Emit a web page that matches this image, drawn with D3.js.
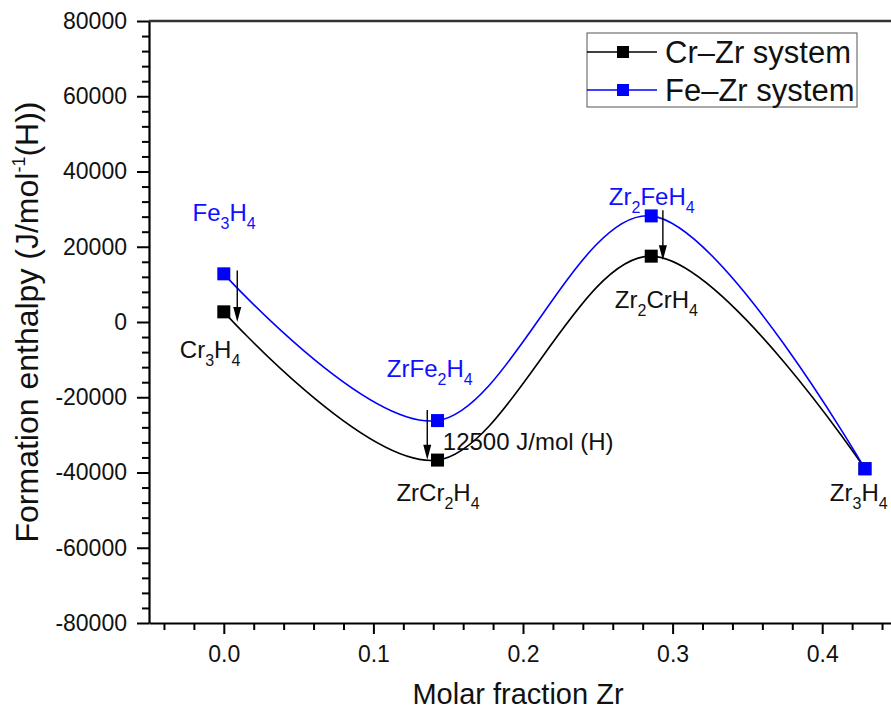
<!DOCTYPE html>
<html>
<head>
<meta charset="utf-8">
<script src="https://cdn.jsdelivr.net/npm/d3@7/dist/d3.min.js"></script>
<style>
  html, body { margin: 0; padding: 0; background: #fff; }
  svg { display: block; font-family: "Liberation Sans", Arial, sans-serif; }
</style>
</head>
<body>
<svg id="chart" width="891" height="717"></svg>
<script>
// ---- data ----
const molarFraction = [0, 1/7, 2/7, 3/7];
const crZrEnthalpy = [2700, -36700, 17500, -39000];
const feZrEnthalpy = [12800, -26200, 28200, -39000];
const seriesNames = ["Cr\u2013Zr system", "Fe\u2013Zr system"];
const seriesColors = ["#000000", "#0000ff"];
const yTickValues = [-80000, -60000, -40000, -20000, 0, 20000, 40000, 60000, 80000];
const xTickValues = [0.0, 0.1, 0.2, 0.3, 0.4];
const xTitle = "Molar fraction Zr";
// annotation arrows (data coords): x, from, to
const arrowX = [0.009, 0.136, 0.2935];
const arrowFrom = [13700, -23400, 29700];
const arrowTo = [0, -36600, 16400];
// labels: parts [text, isSub], x, y (data coords, baseline-left), series index
const labelParts = [
  [["Fe",0],["3",1],["H",0],["4",1]],
  [["Cr",0],["3",1],["H",0],["4",1]],
  [["ZrFe",0],["2",1],["H",0],["4",1]],
  [["12500 J/mol (H)",0]],
  [["ZrCr",0],["2",1],["H",0],["4",1]],
  [["Zr",0],["2",1],["FeH",0],["4",1]],
  [["Zr",0],["2",1],["CrH",0],["4",1]],
  [["Zr",0],["3",1],["H",0],["4",1]]
];
const labelX = [-0.0209, -0.0294, 0.109, 0.1464, 0.1154, 0.2574, 0.2614, 0.4051];
const labelY = [26850, -9570, -14620, -34020, -47580, 31100, 3720, -47700];
const labelSeries = [1, 0, 1, 0, 0, 1, 0, 0];

// ---- chart ----
const svg = d3.select("#chart");
const L = 149, T = 21, R = 897, B = 623;
const x = d3.scaleLinear().domain([-0.05, 0.45]).range([L, R]);
const y = d3.scaleLinear().domain([-80000, 80000]).range([B, T]);

const fmtY = d => String(d);
const minorY = d3.range(-80000, 80001, 4000).filter(v => v % 20000 !== 0);
const minorX = d3.range(-0.04, 0.4401, 0.02).map(v => +v.toFixed(2)).filter(v => Math.abs(v*10 - Math.round(v*10)) > 1e-6);

// minor ticks
svg.append("g").attr("transform", `translate(${L},0)`)
  .call(d3.axisLeft(y).tickValues(minorY).tickSize(7).tickFormat(""))
  .call(g => g.select(".domain").remove())
  .selectAll("line").attr("stroke", "#000").attr("stroke-width", 2);
svg.append("g").attr("transform", `translate(0,${B})`)
  .call(d3.axisBottom(x).tickValues(minorX).tickSize(7).tickFormat(""))
  .call(g => g.select(".domain").remove())
  .selectAll("line").attr("stroke", "#000").attr("stroke-width", 2);

// major axes
const yAxis = svg.append("g").attr("transform", `translate(${L},0)`)
  .call(d3.axisLeft(y).tickValues(yTickValues).tickFormat(fmtY).tickSize(12).tickSizeOuter(0).tickPadding(10));
const xAxis = svg.append("g").attr("transform", `translate(0,${B})`)
  .call(d3.axisBottom(x).tickValues(xTickValues).tickFormat(d3.format(".1f")).tickSize(11).tickSizeOuter(0).tickPadding(12));
[yAxis, xAxis].forEach(g => {
  g.select(".domain").attr("stroke", "#000").attr("stroke-width", 2.2);
  g.selectAll(".tick line").attr("stroke", "#000").attr("stroke-width", 2);
  g.selectAll(".tick text").attr("fill", "#111").attr("font-size", 23)
    .attr("font-family", "'Liberation Sans', Arial, sans-serif");
});
// top & right frame
svg.append("line").attr("x1", L).attr("x2", R).attr("y1", T).attr("y2", T)
  .attr("stroke", "#333").attr("stroke-width", 2.5);
svg.append("line").attr("x1", R).attr("x2", R).attr("y1", T).attr("y2", B)
  .attr("stroke", "#333").attr("stroke-width", 2.5);

// axis titles
svg.append("text").attr("x", (x(0) + x(0.4)) / 2 - 5).attr("y", 704)
  .attr("text-anchor", "middle").attr("font-size", 29).attr("fill", "#111").text(xTitle);
const yt = svg.append("text").attr("transform", `translate(38,${(T + B) / 2}) rotate(-90)`)
  .attr("text-anchor", "middle").attr("font-size", 32).attr("fill", "#111");
yt.append("tspan").text("Formation enthalpy (J/mol");
yt.append("tspan").attr("font-size", 18).attr("dy", -13).text("-1");
yt.append("tspan").attr("dy", 13).text("(H))");

// curves (Origin-like spline: uniform Catmull-Rom)
const seriesData = [crZrEnthalpy, feZrEnthalpy];
const line = d3.line().x(d => x(d[0])).y(d => y(d[1])).curve(d3.curveCardinal.tension(0));
seriesData.forEach((vals, i) => {
  const pts = molarFraction.map((m, j) => [m, vals[j]]);
  svg.append("path").datum(pts).attr("d", line)
    .attr("fill", "none").attr("stroke", seriesColors[i]).attr("stroke-width", 1.6);
});

// arrows
arrowX.forEach((ax, i) => {
  svg.append("line").attr("x1", x(ax)).attr("x2", x(ax))
    .attr("y1", y(arrowFrom[i])).attr("y2", y(arrowTo[i]) - 10)
    .attr("stroke", "#000").attr("stroke-width", 1.4);
  svg.append("path")
    .attr("d", `M${x(ax) - 4},${y(arrowTo[i]) - 15} L${x(ax) + 4},${y(arrowTo[i]) - 15} L${x(ax)},${y(arrowTo[i])} Z`)
    .attr("fill", "#000");
});

// markers
seriesData.forEach((vals, i) => {
  svg.append("g").selectAll("rect").data(molarFraction.map((m, j) => [m, vals[j]]))
    .join("rect")
    .attr("x", d => x(d[0]) - 6.5).attr("y", d => y(d[1]) - 6.5)
    .attr("width", 13).attr("height", 13).attr("fill", seriesColors[i]);
});

// labels
labelParts.forEach((parts, i) => {
  const t = svg.append("text").attr("x", x(labelX[i])).attr("y", y(labelY[i]))
    .attr("font-size", 24).attr("fill", labelSeries[i] === 1 ? "#1010ff" : "#111");
  let sub = false;
  parts.forEach(([s, isSub]) => {
    const ts = t.append("tspan").text(s);
    if (isSub && !sub) { ts.attr("dy", 8).attr("font-size", 16); sub = true; }
    else if (isSub && sub) { ts.attr("font-size", 16); }
    else if (!isSub && sub) { ts.attr("dy", -8); sub = false; }
  });
});

// legend
const lg = svg.append("g");
lg.append("rect").attr("x", 587).attr("y", 33).attr("width", 270).attr("height", 74)
  .attr("fill", "#fff").attr("stroke", "#555").attr("stroke-width", 1);
seriesNames.forEach((name, i) => {
  const cy = 52 + i * 38;
  lg.append("line").attr("x1", 587).attr("x2", 657).attr("y1", cy).attr("y2", cy)
    .attr("stroke", seriesColors[i]).attr("stroke-width", 1.4);
  lg.append("rect").attr("x", 623 - 6).attr("y", cy - 6).attr("width", 12).attr("height", 12)
    .attr("fill", seriesColors[i]);
  lg.append("text").attr("x", 665).attr("y", cy + 11).attr("font-size", 31)
    .attr("fill", "#111").text(name);
});
</script>
</body>
</html>
